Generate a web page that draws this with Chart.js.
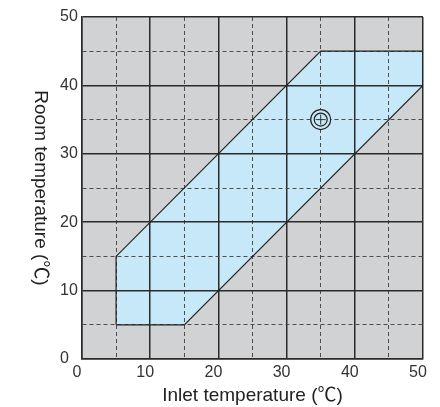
<!DOCTYPE html>
<html>
<head>
<meta charset="utf-8">
<script src="https://cdn.jsdelivr.net/npm/chart.js@4"></script>
<style>
  html, body { margin: 0; padding: 0; background: #fff; }
  #wrap { width: 440px; height: 407px; position: relative; }
</style>
</head>
<body>
<div id="wrap"><canvas id="zoneChart"></canvas></div>
<script>
// Données
const zoneInlet = [5, 15, 50, 50, 35, 5, 5];   // température d'entrée (x)
const zoneRoom  = [5, 5, 40, 45, 45, 15, 5];   // température ambiante (y)
const markInlet = [35];
const markRoom  = [35];
const axisMin = 0;
const axisMax = 50;
const xTitle = 'Inlet temperature (℃)';
const yTitle = 'Room temperature (℃)';

const FONT = '"Liberation Sans", "Noto Sans CJK JP", Arial, sans-serif';
const BLUE = '#c7e8f8';
const GRAY = '#d1d2d4';

const toPoints = (xs, ys) => xs.map((x, i) => ({ x: x, y: ys[i] }));

// Fond gris de la zone de tracé, glissé derrière le remplissage
const plotBackground = {
    id: 'plotBackground',
    beforeDraw(chart) {
        const { ctx, chartArea: a } = chart;
        ctx.save();
        ctx.globalCompositeOperation = 'destination-over';
        ctx.fillStyle = GRAY;
        ctx.fillRect(a.left, a.top, a.right - a.left, a.bottom - a.top);
        ctx.restore();
    }
};

// Titre de l'axe Y lu de haut en bas
const yAxisTitle = {
    id: 'yAxisTitle',
    afterDraw(chart) {
        const { ctx, chartArea: a } = chart;
        ctx.save();
        ctx.translate(40, (a.top + a.bottom) / 2);
        ctx.rotate(Math.PI / 2);
        ctx.font = '19px ' + FONT;
        ctx.fillStyle = '#222';
        ctx.textAlign = 'center';
        ctx.textBaseline = 'middle';
        ctx.fillText(yTitle, 0, 0);
        ctx.restore();
    }
};

const gridColor = ctx => (ctx.tick && ctx.tick.value % 10 === 0) ? '#2a2a2a' : '#4d4d4d';
const gridWidth = ctx => (ctx.tick && ctx.tick.value % 10 === 0) ? 1.5 : 1;
const gridDash = ctx => (ctx.tick && ctx.tick.value % 10 === 0) ? [] : [4, 3];
const tickLabel = v => (v % 10 === 0 ? v : '');

const ctx = document.getElementById('zoneChart').getContext('2d');
new Chart(ctx, {
    type: 'scatter',
    data: {
        datasets: [
            {
                data: toPoints(markInlet, markRoom),
                pointStyle: 'cross',
                pointRadius: 5,
                borderColor: '#333',
                borderWidth: 1,
                order: 0
            },
            {
                data: toPoints(markInlet, markRoom),
                pointStyle: 'circle',
                pointRadius: 6.5,
                backgroundColor: BLUE,
                borderColor: '#222',
                borderWidth: 1.2,
                order: 1
            },
            {
                data: toPoints(markInlet, markRoom),
                pointStyle: 'circle',
                pointRadius: 10,
                backgroundColor: BLUE,
                borderColor: '#222',
                borderWidth: 1.2,
                order: 2
            },
            {
                data: toPoints(zoneInlet, zoneRoom),
                showLine: true,
                fill: 'shape',
                tension: 0,
                pointRadius: 0,
                borderColor: '#222',
                borderWidth: 1.2,
                backgroundColor: BLUE,
                order: 3
            }
        ]
    },
    options: {
        responsive: true,
        maintainAspectRatio: false,
        animation: false,
        events: [],
        layout: { padding: { left: 60, top: 17, right: 17, bottom: 0 } },
        plugins: {
            legend: { display: false },
            tooltip: { enabled: false },
            filler: { drawTime: 'beforeDraw' }
        },
        scales: {
            x: {
                type: 'linear',
                min: axisMin,
                max: axisMax,
                afterFit: s => { s.height = 48; },
                ticks: {
                    stepSize: 5,
                    callback: tickLabel,
                    maxRotation: 0,
                    autoSkip: false,
                    padding: 4,
                    labelOffset: -5,
                    color: '#333',
                    font: { family: FONT, size: 16 }
                },
                grid: { color: gridColor, lineWidth: gridWidth, drawTicks: false },
                border: { color: '#2a2a2a', width: 1.5, dash: gridDash },
                title: {
                    display: true,
                    text: xTitle,
                    color: '#222',
                    padding: { top: 0, bottom: 0 },
                    font: { family: FONT, size: 19 }
                }
            },
            y: {
                type: 'linear',
                min: axisMin,
                max: axisMax,
                afterFit: s => { s.width = 22; },
                ticks: {
                    stepSize: 5,
                    callback: tickLabel,
                    autoSkip: false,
                    crossAlign: 'far',
                    padding: 4,
                    color: '#333',
                    font: { family: FONT, size: 16 }
                },
                grid: { color: gridColor, lineWidth: gridWidth, drawTicks: false },
                border: { color: '#2a2a2a', width: 1.5, dash: gridDash }
            }
        }
    },
    plugins: [plotBackground, yAxisTitle]
});
</script>
</body>
</html>
